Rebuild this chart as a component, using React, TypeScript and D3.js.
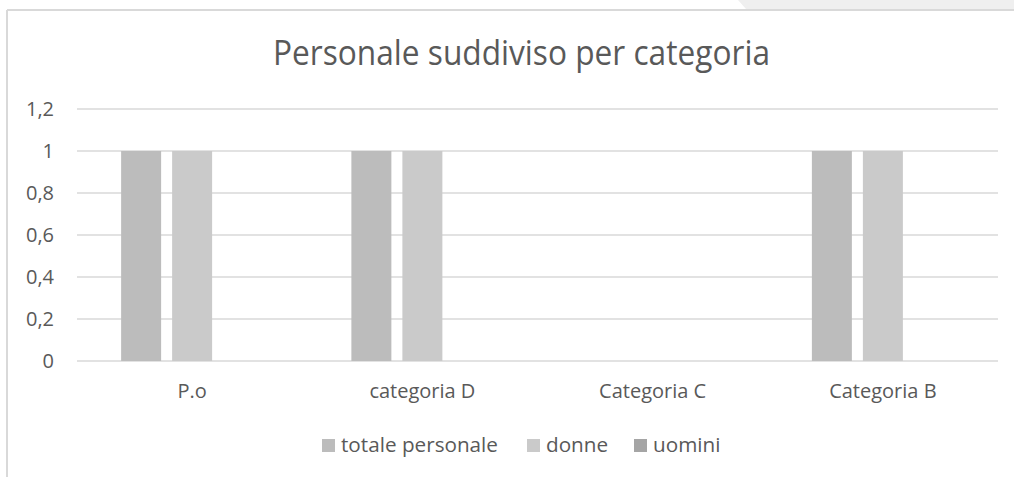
import React from 'react'
import * as d3 from 'd3'

// chart data
const categories = ['P.o', 'categoria D', 'Categoria C', 'Categoria B']
const seriesNames = ['totale personale', 'donne', 'uomini']
const totalePersonale = [1, 1, 0, 1]
const donne = [1, 1, 0, 1]
const uomini = [0, 0, 0, 0]
const yTicks = [0, 0.2, 0.4, 0.6, 0.8, 1, 1.2]
const colors = ['#bcbcbc', '#cacaca', '#a5a5a5']

const W = 1014
const H = 477
const FONT = "'Open Sans', sans-serif"
const TEXT = '#595959'

export default function App() {
  const values = [totalePersonale, donne, uomini]

  const y = d3.scaleLinear().domain([0, 1.2]).range([361, 109])
  const x0 = d3.scaleBand<string>().domain(categories).range([77, 998])
  const groupW = 142
  const x1 = d3.scaleBand<string>().domain(seriesNames).range([0, groupW]).paddingInner(11 / 51)
  const offset = (x0.bandwidth() - groupW) / 2
  const fmt = (v: number) => d3.format('~g')(v).replace('.', ',')

  // legend layout
  const legendX = [322, 527, 634]

  return (
    <svg width={W} height={H} style={{ position: 'absolute', left: 0, top: 0, fontFamily: FONT }}>
      <rect x={0} y={0} width={W} height={H} fill="#fff" />
      <polygon points={`738,0 ${W},0 ${W},9 746,9`} fill="#efefef" />
      <line x1={7} x2={W} y1={10} y2={10} stroke="#d9d9d9" strokeWidth={2} />
      <line x1={7} x2={7} y1={10} y2={H} stroke="#d9d9d9" strokeWidth={2} />

      <text x={521.5} y={65} textAnchor="middle" fontSize={34} fill={TEXT}
        textLength={497} lengthAdjust="spacingAndGlyphs">
        Personale suddiviso per categoria
      </text>

      {yTicks.map(t => (
        <g key={t}>
          <line x1={77} x2={998} y1={y(t)} y2={y(t)} stroke="#d9d9d9" strokeWidth={1.3} />
          <text x={54} y={y(t)} dy="0.35em" textAnchor="end" fontSize={20} fill={TEXT}>{fmt(t)}</text>
        </g>
      ))}

      {categories.map((c, ci) => (
        <g key={c} transform={`translate(${x0(c)! + offset},0)`}>
          {seriesNames.map((s, si) => {
            const v = values[si][ci]
            if (v <= 0) return null
            return (
              <rect key={s} x={x1(s)} y={y(v)} width={x1.bandwidth()} height={y(0) - y(v)} fill={colors[si]} />
            )
          })}
        </g>
      ))}

      {categories.map(c => (
        <text key={c} x={x0(c)! + x0.bandwidth() / 2} y={398} textAnchor="middle" fontSize={20} fill={TEXT}>{c}</text>
      ))}

      {seriesNames.map((s, i) => (
        <g key={s}>
          <rect x={legendX[i]} y={439} width={13} height={13} fill={colors[i]} />
          <text x={legendX[i] + 19} y={452} fontSize={20.7} fill={TEXT}>{s}</text>
        </g>
      ))}
    </svg>
  )
}
